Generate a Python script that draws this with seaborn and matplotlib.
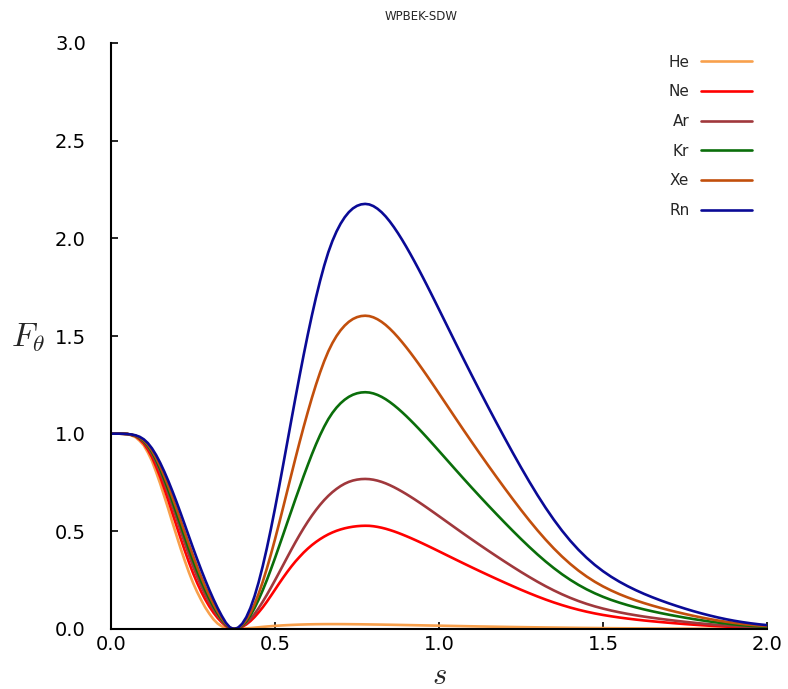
import matplotlib
matplotlib.use("Agg")
import matplotlib.pyplot as plt
import seaborn as sns
import pandas as pd

# ---- data (s grid and F_theta per element) ----
s_vals = [0.0, 0.0125, 0.025, 0.0375, 0.05, 0.0625, 0.075, 0.0875, 0.1, 0.1125,
          0.125, 0.1375, 0.15, 0.1625, 0.175, 0.1875, 0.2, 0.2125, 0.225, 0.2375,
          0.25, 0.2625, 0.275, 0.2875, 0.3, 0.3125, 0.325, 0.3375, 0.35, 0.3625,
          0.375, 0.3875, 0.4, 0.4125, 0.425, 0.4375, 0.45, 0.4625, 0.475, 0.4875,
          0.5, 0.5125, 0.525, 0.5375, 0.55, 0.5625, 0.575, 0.5875, 0.6, 0.6125,
          0.625, 0.6375, 0.65, 0.6625, 0.675, 0.6875, 0.7, 0.7125, 0.725, 0.7375,
          0.75, 0.7625, 0.775, 0.7875, 0.8, 0.8125, 0.825, 0.8375, 0.85, 0.8625,
          0.875, 0.8875, 0.9, 0.9125, 0.925, 0.9375, 0.95, 0.9625, 0.975, 0.9875,
          1.0,
          1.025, 1.05, 1.075, 1.1, 1.125, 1.15, 1.175, 1.2, 1.225, 1.25,
          1.275, 1.3, 1.325, 1.35, 1.375, 1.4, 1.425, 1.45, 1.475, 1.5,
          1.525, 1.55, 1.575, 1.6, 1.625, 1.65, 1.675, 1.7, 1.725, 1.75,
          1.775, 1.8, 1.825, 1.85, 1.875, 1.9, 1.925, 1.95, 1.975, 2.0]

he = [1.0, 1.0, 1.0, 0.9994, 0.9982, 0.991, 0.9817, 0.9633, 0.94, 0.9031,
      0.86, 0.8039, 0.7443, 0.6788, 0.613, 0.5441, 0.4773, 0.4116, 0.3494, 0.2904,
      0.2368, 0.1899, 0.1484, 0.1099, 0.0777, 0.0493, 0.028, 0.0139, 0.0049, 0.001,
      0.0, 0.0004, 0.0015, 0.003, 0.0048, 0.0068, 0.0088, 0.0108, 0.0127, 0.0144,
      0.016, 0.0174, 0.0187, 0.0198, 0.0208, 0.0217, 0.0225, 0.0231, 0.0237, 0.0241,
      0.0245, 0.0247, 0.0249, 0.025, 0.025, 0.025, 0.0249, 0.0248, 0.0246, 0.0244,
      0.0242, 0.024, 0.0237, 0.0234, 0.0231, 0.0228, 0.0225, 0.0221, 0.0218, 0.0214,
      0.021, 0.0206, 0.0202, 0.0198, 0.0194, 0.019, 0.0186, 0.0182, 0.0178, 0.0174,
      0.017,
      0.0162, 0.0154, 0.0146, 0.0138, 0.013, 0.0123, 0.0116, 0.0109, 0.0102, 0.0096,
      0.009, 0.0084, 0.0078, 0.0073, 0.0068, 0.0063, 0.0058, 0.0054, 0.005, 0.0046,
      0.0042, 0.0039, 0.0036, 0.0033, 0.003, 0.0028, 0.0025, 0.0023, 0.0021, 0.0019,
      0.0017, 0.0016, 0.0014, 0.0013, 0.0012, 0.0011, 0.001, 0.0009, 0.0008, 0.0007]

ne = [1.0, 1.0, 1.0, 0.9994, 0.9982, 0.9934, 0.9866, 0.9707, 0.9497, 0.9183,
      0.8803, 0.8315, 0.7783, 0.7183, 0.6569, 0.5917, 0.5273, 0.4631, 0.4012, 0.3419,
      0.2867, 0.2365, 0.1908, 0.1504, 0.1146, 0.0835, 0.0566, 0.0341, 0.0156, 0.0037,
      0.0, 0.0028, 0.0108, 0.0235, 0.0403, 0.0609, 0.0848, 0.1107, 0.1394, 0.17,
      0.2013, 0.2329, 0.2633, 0.2926, 0.3203, 0.3461, 0.3694, 0.3917, 0.4115, 0.4296,
      0.4457, 0.4602, 0.4731, 0.4845, 0.4943, 0.5027, 0.5097, 0.5155, 0.5201, 0.5237,
      0.5263, 0.528, 0.5286, 0.5282, 0.5261, 0.5228, 0.5185, 0.5132, 0.5069, 0.5,
      0.4924, 0.4842, 0.4756, 0.4667, 0.4574, 0.4479, 0.4381, 0.4282, 0.4181, 0.4079,
      0.3976,
      0.3769, 0.3563, 0.3358, 0.3156, 0.2957, 0.2761, 0.2568, 0.2378, 0.2192, 0.201,
      0.1835, 0.1667, 0.1508, 0.136, 0.1224, 0.1099, 0.0987, 0.0886, 0.0797, 0.0719,
      0.065, 0.0588, 0.0533, 0.0483, 0.0437, 0.0396, 0.0357, 0.032, 0.0286, 0.0253,
      0.0223, 0.0194, 0.0168, 0.0144, 0.0122, 0.0103, 0.0086, 0.0071, 0.0059, 0.0048]

ar = [1.0, 1.0, 1.0, 0.9994, 0.9982, 0.9939, 0.9876, 0.9747, 0.9565, 0.9292,
      0.8951, 0.852, 0.8038, 0.7481, 0.6902, 0.6283, 0.5663, 0.5025, 0.4401, 0.3794,
      0.322, 0.2687, 0.2196, 0.1752, 0.1351, 0.0994, 0.0681, 0.0414, 0.0192, 0.0046,
      0.0, 0.0035, 0.0137, 0.0298, 0.0511, 0.0769, 0.1065, 0.1393, 0.1745, 0.2114,
      0.2495, 0.2885, 0.328, 0.3676, 0.4067, 0.4448, 0.4815, 0.5165, 0.5496, 0.5806,
      0.6094, 0.6359, 0.66, 0.6816, 0.7007, 0.7173, 0.7318, 0.7438, 0.7532, 0.7601,
      0.7647, 0.7674, 0.7682, 0.7672, 0.7642, 0.7595, 0.7532, 0.7455, 0.7364, 0.7263,
      0.7152, 0.7034, 0.691, 0.6779, 0.6645, 0.6506, 0.6365, 0.622, 0.6073, 0.5925,
      0.5775,
      0.5475, 0.5175, 0.4877, 0.4584, 0.4295, 0.401, 0.373, 0.3454, 0.3184, 0.292,
      0.2666, 0.2422, 0.2191, 0.1976, 0.1777, 0.1596, 0.1433, 0.1287, 0.1158, 0.1045,
      0.0944, 0.0855, 0.0774, 0.0702, 0.0635, 0.0575, 0.0518, 0.0465, 0.0415, 0.0368,
      0.0324, 0.0282, 0.0244, 0.0209, 0.0177, 0.0149, 0.0124, 0.0103, 0.0085, 0.007]

kr = [1.0, 1.0, 1.0, 0.9994, 0.9982, 0.9944, 0.9886, 0.9776, 0.9614, 0.9373,
      0.9062, 0.8653, 0.8191, 0.7666, 0.7114, 0.6523, 0.5923, 0.5306, 0.4695, 0.409,
      0.3511, 0.2965, 0.2453, 0.1979, 0.1545, 0.115, 0.0798, 0.0492, 0.0231, 0.0056,
      0.0, 0.0045, 0.0179, 0.0396, 0.0693, 0.1064, 0.15, 0.1979, 0.2496, 0.3054,
      0.3631, 0.4232, 0.4837, 0.5451, 0.6053, 0.666, 0.7246, 0.7835, 0.8397, 0.8943,
      0.9455, 0.9929, 1.036, 1.0742, 1.1064, 1.1333, 1.1558, 1.174, 1.1885, 1.1993,
      1.2066, 1.2108, 1.2122, 1.2106, 1.2059, 1.1984, 1.1885, 1.1763, 1.162, 1.146,
      1.1286, 1.1099, 1.0903, 1.0697, 1.0485, 1.0267, 1.0043, 0.9815, 0.9583, 0.9349,
      0.9113,
      0.864, 0.8166, 0.7696, 0.7233, 0.6777, 0.6328, 0.5886, 0.5451, 0.5024, 0.4608,
      0.4206, 0.3821, 0.3457, 0.3118, 0.2804, 0.2519, 0.2261, 0.2031, 0.1828, 0.1648,
      0.1489, 0.1349, 0.1222, 0.1107, 0.1003, 0.0907, 0.0818, 0.0734, 0.0656, 0.0581,
      0.0511, 0.0446, 0.0385, 0.033, 0.028, 0.0235, 0.0196, 0.0163, 0.0134, 0.0111]

xe = [1.0, 1.0, 1.0, 0.9994, 0.9982, 0.9949, 0.9896, 0.9801, 0.9653, 0.943,
      0.9136, 0.8756, 0.8319, 0.7827, 0.7303, 0.6738, 0.6156, 0.5555, 0.4951, 0.4346,
      0.376, 0.3198, 0.2666, 0.2166, 0.1704, 0.128, 0.0897, 0.0557, 0.0264, 0.0065,
      0.0, 0.0052, 0.0208, 0.0464, 0.0819, 0.1267, 0.1801, 0.2411, 0.3086, 0.3819,
      0.4594, 0.5404, 0.6234, 0.7077, 0.7917, 0.8752, 0.9567, 1.0355, 1.111, 1.1833,
      1.2511, 1.3137, 1.3708, 1.4213, 1.4639, 1.4996, 1.5293, 1.5534, 1.5726, 1.5869,
      1.5966, 1.6021, 1.6039, 1.6019, 1.5956, 1.5857, 1.5725, 1.5565, 1.5375, 1.5164,
      1.4933, 1.4686, 1.4426, 1.4154, 1.3873, 1.3584, 1.3288, 1.2987, 1.268, 1.2371,
      1.2058,
      1.1432, 1.0805, 1.0183, 0.9571, 0.8967, 0.8373, 0.7788, 0.7212, 0.6648, 0.6097,
      0.5565, 0.5056, 0.4575, 0.4125, 0.3711, 0.3333, 0.2992, 0.2688, 0.2418, 0.2181,
      0.1971, 0.1784, 0.1617, 0.1465, 0.1327, 0.12, 0.1082, 0.0971, 0.0867, 0.0769,
      0.0676, 0.059, 0.051, 0.0436, 0.037, 0.0311, 0.0259, 0.0215, 0.0178, 0.0147]

rn = [1.0, 1.0, 1.0, 0.9994, 0.9982, 0.9959, 0.9916, 0.984, 0.9711, 0.9516,
      0.9247, 0.8907, 0.8506, 0.8057, 0.7568, 0.7044, 0.6494, 0.5922, 0.5335, 0.4742,
      0.4155, 0.3583, 0.3029, 0.2497, 0.1993, 0.1518, 0.1078, 0.0678, 0.0326, 0.0081,
      0.0, 0.0067, 0.0269, 0.0605, 0.1075, 0.1672, 0.2388, 0.321, 0.4125, 0.5119,
      0.6175, 0.7278, 0.8413, 0.9563, 1.0713, 1.1851, 1.2963, 1.4041, 1.5075, 1.6056,
      1.6975, 1.7825, 1.86, 1.9285, 1.9863, 2.0347, 2.075, 2.1078, 2.1338, 2.1532,
      2.1663, 2.1738, 2.1763, 2.1735, 2.165, 2.1515, 2.1337, 2.1119, 2.0862, 2.0575,
      2.0262, 1.9927, 1.9574, 1.9205, 1.8824, 1.8432, 1.803, 1.7621, 1.7205, 1.6785,
      1.6361,
      1.5511, 1.4661, 1.3817, 1.2986, 1.2167, 1.1361, 1.0567, 0.9786, 0.902, 0.8273,
      0.7551, 0.686, 0.6207, 0.5597, 0.5035, 0.4522, 0.406, 0.3647, 0.3281, 0.2959,
      0.2674, 0.2421, 0.2194, 0.1988, 0.18, 0.1628, 0.1468, 0.1318, 0.1177, 0.1043,
      0.0917, 0.08, 0.0692, 0.0592, 0.0502, 0.0422, 0.0352, 0.0292, 0.0241, 0.0199]

atoms = ["He", "Ne", "Ar", "Kr", "Xe", "Rn"]
series = [he, ne, ar, kr, xe, rn]
colors = ["#f8a04c", "#ff0000", "#a0383c", "#0a6e0a", "#c24f0c", "#0a0a96"]

x_ticks = [0.0, 0.5, 1.0, 1.5, 2.0]
x_ticklabels = ["0.0", "0.5", "1.0", "1.5", "2.0"]
y_ticks = [0.0, 0.5, 1.0, 1.5, 2.0, 2.5, 3.0]
y_ticklabels = ["0.0", "0.5", "1.0", "1.5", "2.0", "2.5", "3.0"]

rows = []
for name, vals in zip(atoms, series):
    for sv, fv in zip(s_vals, vals):
        rows.append({"s": sv, "F": fv, "atom": name})
df = pd.DataFrame(rows)

sns.set_style("ticks")
plt.rcParams["font.family"] = ["DejaVu Sans"]
plt.rcParams["mathtext.fontset"] = "cm"

fig = plt.figure(figsize=(7.88, 6.89), dpi=100)
ax = fig.add_axes([111 / 788, 60 / 689, 656 / 788, 586 / 689])

sns.lineplot(data=df, x="s", y="F", hue="atom", hue_order=atoms,
             palette=dict(zip(atoms, colors)), linewidth=1.9, ax=ax)

ax.set_xlim(0, 2.0)
ax.set_ylim(0, 3.0)
ax.set_xticks(x_ticks)
ax.set_yticks(y_ticks)
ax.set_xticklabels(x_ticklabels)
ax.set_yticklabels(y_ticklabels)
ax.tick_params(axis="both", direction="in", length=5, width=1.2, labelsize=14, colors="black")
ax.tick_params(axis="y", pad=18)
ax.tick_params(axis="x", pad=4)
for side in ["top", "right"]:
    ax.spines[side].set_visible(False)
for side in ["left", "bottom"]:
    ax.spines[side].set_linewidth(1.5)
    ax.spines[side].set_color("black")

ax.set_xlabel("$s$", fontsize=22, va="center")
ax.set_ylabel(r"$F_{\theta}$", fontsize=24, rotation=0, ha="center", va="center")
ax.xaxis.set_label_coords(0.5, -0.0785)
ax.yaxis.set_label_coords(-0.127, 0.497)

fig.text(421 / 788, 1 - 17 / 689, "WPBEK-SDW", fontsize=8.5, ha="center", va="center")

sns.move_legend(ax, "upper right", bbox_to_anchor=(0.977, 0.98), frameon=False,
                markerfirst=False, title=None, fontsize=11, handlelength=3.3,
                handletextpad=0.8, labelspacing=0.96, borderaxespad=0, borderpad=0)

fig.savefig("out.png", dpi=100)
